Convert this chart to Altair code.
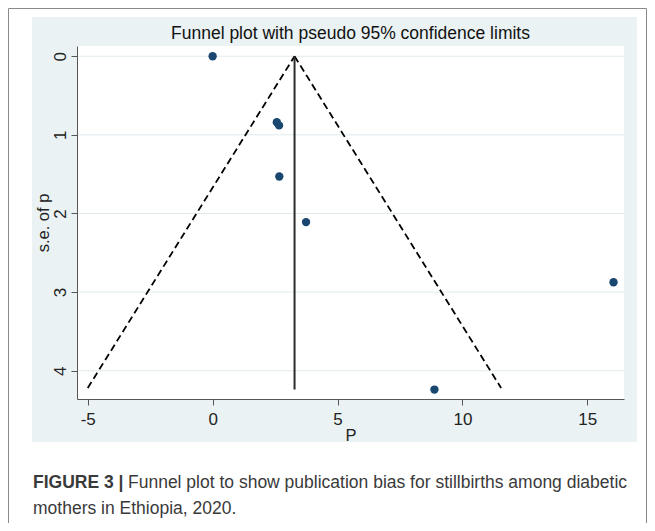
import altair as alt
import pandas as pd

# ---- data ----
study_p = [0.0, 2.57, 2.66, 2.67, 3.74, 16.05, 8.88]
study_se = [0.0, 0.84, 0.88, 1.53, 2.11, 2.875, 4.24]
pooled_p = [3.28, 3.28]
pooled_se = [0.0, 4.24]
funnel_se = [0.0, 4.22]
lower_limit = [3.28, -5.0]
upper_limit = [3.28, 11.55]
x_ticks = [-5, 0, 5, 10, 15]
y_ticks = [0, 1, 2, 3, 4]

title_text = "Funnel plot with pseudo 95% confidence limits"
x_title = "P"
y_title = "s.e. of p"
caption_bold = "FIGURE 3 |"
caption_line1 = "Funnel plot to show publication bias for stillbirths among diabetic"
caption_line2 = "mothers in Ethiopia, 2020."

# ---- layout ----
W, H = 547, 353
FONT = "Liberation Sans"
PANEL = "#eaf2f3"
NAVY = "#1a476f"

points_df = pd.DataFrame({"p": study_p, "se": study_se})
pooled_df = pd.DataFrame({"p": pooled_p, "se": pooled_se})
funnel_df = pd.DataFrame({
    "p": lower_limit + upper_limit,
    "se": funnel_se + funnel_se,
    "side": ["lower"] * len(lower_limit) + ["upper"] * len(upper_limit),
})
grid_df = pd.DataFrame({"se": y_ticks})
dummy = pd.DataFrame({"a": [0]})

x_scale = alt.Scale(domain=[-5.43, 16.47], nice=False, zero=False)
y_scale = alt.Scale(domain=[-0.13, 4.36], nice=False, zero=False, reverse=True)

x_axis = alt.Axis(
    values=x_ticks, title=x_title, grid=False, zindex=1,
    labelExpr="'' + datum.value",
    labelFont=FONT, labelFontSize=17, labelColor="#222", labelPadding=6,
    labelFlush=False, labelOverlap=False,
    tickSize=6, tickColor="#555", domainColor="#555",
    titleFont=FONT, titleFontSize=16.5, titleFontWeight="normal", titleColor="#222",
    titleX=W / 2, titleY=41, titleBaseline="alphabetic", titleAlign="center",
)
y_axis = alt.Axis(
    values=y_ticks, title=y_title, grid=False, zindex=1,
    labelExpr="'' + datum.value",
    labelFont=FONT, labelFontSize=17, labelColor="#222", labelPadding=6,
    labelAngle=270, labelAlign="center", labelBaseline="alphabetic",
    labelFlush=False, labelOverlap=False,
    tickSize=6, tickColor="#555", domainColor="#555",
    titleFont=FONT, titleFontSize=16.5, titleFontWeight="normal", titleColor="#222",
    titleAngle=270, titleX=-29, titleY=H / 2, titleBaseline="alphabetic", titleAlign="center",
)


def X(field):
    return alt.X(field, type="quantitative", scale=x_scale, axis=x_axis)


def Y(field):
    return alt.Y(field, type="quantitative", scale=y_scale, axis=y_axis)


border = alt.Chart(dummy).mark_rect(fill="white", stroke="#8a8a8a", strokeWidth=1).encode(
    x=alt.value(-68.5), x2=alt.value(569.5), y=alt.value(-37.5), y2=alt.value(700)
)
panel = alt.Chart(dummy).mark_rect(fill=PANEL).encode(
    x=alt.value(-45), x2=alt.value(560), y=alt.value(-29), y2=alt.value(396)
)
plot_bg = alt.Chart(dummy).mark_rect(fill="white").encode(
    x=alt.value(0), x2=alt.value(W), y=alt.value(0), y2=alt.value(H)
)
grid = alt.Chart(grid_df).mark_rule(color="#e0ebef", strokeWidth=1).encode(
    y=Y("se"), x=alt.value(0), x2=alt.value(W)
)
funnel = alt.Chart(funnel_df).mark_line(color="black", strokeWidth=1.8, strokeDash=[7, 4]).encode(
    x=X("p"), y=Y("se"), detail="side:N"
)
pooled = alt.Chart(pooled_df).mark_line(color="#2a2a2a", strokeWidth=2).encode(
    x=X("p"), y=Y("se")
)
points = alt.Chart(points_df).mark_point(filled=True, size=70, color=NAVY, opacity=1).encode(
    x=X("p"), y=Y("se")
)

title = alt.Chart(dummy).mark_text(
    align="center", baseline="alphabetic", font=FONT, fontSize=17.5, color="#111"
).encode(x=alt.value(W / 2), y=alt.value(-7.5), text=alt.value(title_text))

cap_style = dict(align="left", baseline="alphabetic", font=FONT, fontSize=17.5, color="#3a3a3a")
cap_b = alt.Chart(dummy).mark_text(fontWeight="bold", **cap_style).encode(
    x=alt.value(-44), y=alt.value(441.5), text=alt.value(caption_bold)
)
cap_1 = alt.Chart(dummy).mark_text(**cap_style).encode(
    x=alt.value(51), y=alt.value(441.5), text=alt.value(caption_line1)
)
cap_2 = alt.Chart(dummy).mark_text(**cap_style).encode(
    x=alt.value(-44), y=alt.value(467.5), text=alt.value(caption_line2)
)

chart = alt.layer(
    border, panel, plot_bg, grid, funnel, pooled, points, title, cap_b, cap_1, cap_2
).properties(
    width=W, height=H,
    padding={"left": 69, "top": 38, "right": 23, "bottom": 124},
    autosize=alt.AutoSizeParams(type="none"),
).configure_view(strokeWidth=0).configure(background="white")

chart.save("out.html", embed_options={"renderer": "svg", "actions": False})
